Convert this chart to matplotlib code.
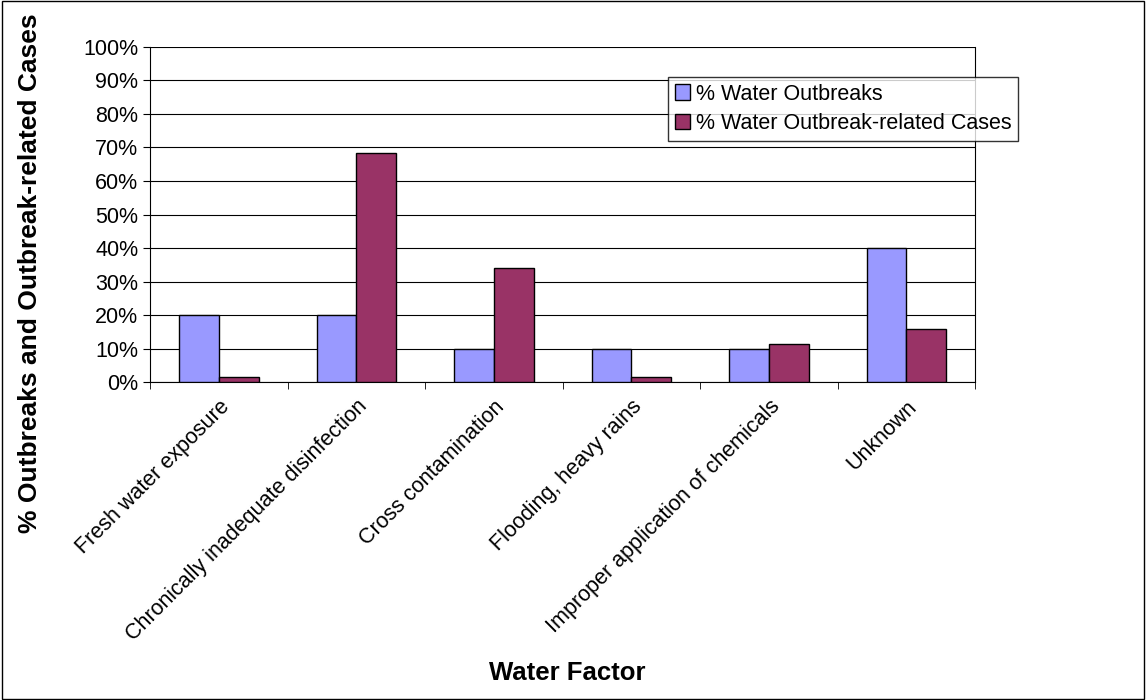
import matplotlib.pyplot as plt
import numpy as np
from matplotlib.ticker import PercentFormatter
from matplotlib.patches import Rectangle

plt.rcParams['font.family'] = ['Liberation Sans', 'DejaVu Sans']

categories = ['Fresh water exposure', 'Chronically inadequate disinfection',
              'Cross contamination', 'Flooding, heavy rains',
              'Improper application of chemicals', 'Unknown']
outbreaks = [20, 20, 10, 10, 10, 40]
cases = [1.6, 68.3, 34.1, 1.6, 11.5, 16.0]

fig = plt.figure(figsize=(11.46, 7), dpi=100)
ax = fig.add_axes([0.131, 0.454, 0.72, 0.479])
fig.patches.append(Rectangle((0.002, 0.002), 0.996, 0.996, transform=fig.transFigure,
                             fill=False, edgecolor='black', linewidth=1))

x = np.arange(len(categories))
w = 0.29
ax.bar(x - w / 2, outbreaks, w, color='#9999FF', edgecolor='black', linewidth=1,
       label='% Water Outbreaks', zorder=3)
ax.bar(x + w / 2, cases, w, color='#993366', edgecolor='black', linewidth=1,
       label='% Water Outbreak-related Cases', zorder=3)

ax.set_xlim(-0.5, len(categories) - 0.5)
ax.set_ylim(0, 100)
ax.set_yticks(range(0, 101, 10))
ax.yaxis.set_major_formatter(PercentFormatter(decimals=0))
ax.grid(axis='y', color='black', linewidth=0.8, zorder=0)
ax.spines['top'].set_visible(False)
ax.tick_params(axis='y', labelsize=15.5, length=5)
ax.set_xticks(x)
ax.set_xticklabels(categories, rotation=45, ha='right', rotation_mode='anchor', fontsize=15.5)
ax.tick_params(axis='x', length=0, pad=10)
ax.set_xticks(np.arange(-0.5, len(categories)), minor=True)
ax.tick_params(axis='x', which='minor', length=5)

fig.text(0.026, 0.61, '% Outbreaks and Outbreak-related Cases', fontsize=19, fontweight='bold',
         rotation=90, ha='center', va='center')
fig.text(0.495, 0.028, 'Water Factor', fontsize=18.5, fontweight='bold', ha='center')

leg = ax.legend(loc='upper left', bbox_to_anchor=(0.628, 0.91), fontsize=15.5, frameon=True,
                fancybox=False, edgecolor='black', handlelength=0.7, handleheight=0.7,
                handletextpad=0.3, borderpad=0.3, labelspacing=0.4, borderaxespad=0)
leg.get_frame().set_linewidth(1)

fig.savefig('out.png', dpi=100)
